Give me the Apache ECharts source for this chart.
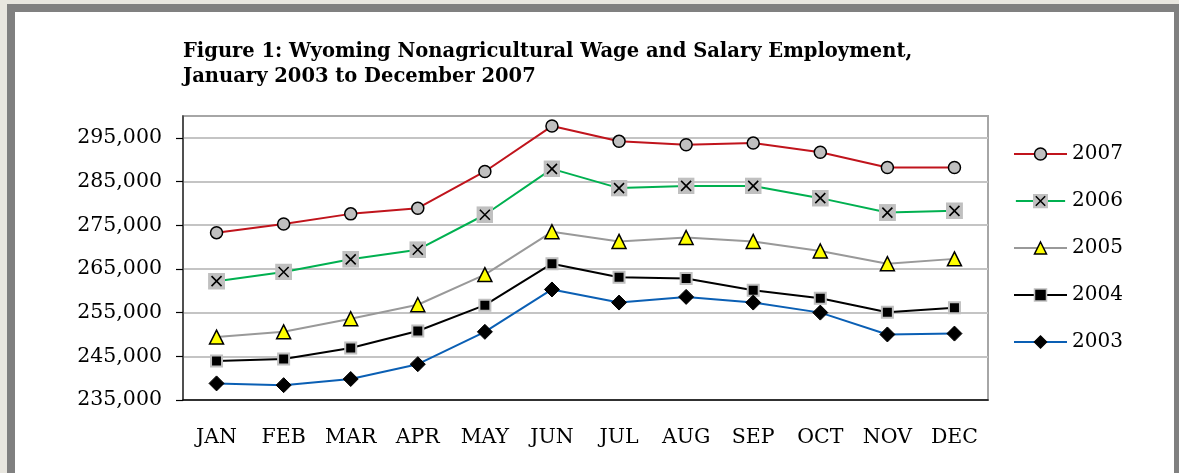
<!DOCTYPE html>
<html>
<head>
<meta charset="utf-8">
<script src="https://cdn.jsdelivr.net/npm/echarts@6/dist/echarts.min.js"></script>
<style>
  html, body { margin: 0; padding: 0; background: #e8e6df; }
  #frame {
    position: absolute; left: 7px; top: 4px; right: 0; bottom: 0;
    background: #fff;
    border-left: 8px solid #808080;
    border-top: 8px solid #808080;
    border-right: 5px solid #808080;
  }
  #main { position: absolute; left: 0; top: 0; width: 1179px; height: 473px; }
</style>
</head>
<body>
<div id="frame"></div>
<div id="main"></div>
<script>
// 月份
var months = ['JAN', 'FEB', 'MAR', 'APR', 'MAY', 'JUN', 'JUL', 'AUG', 'SEP', 'OCT', 'NOV', 'DEC']
var yTicks = [235000, 245000, 255000, 265000, 275000, 285000, 295000]

// 各年就业人数
var y2007 = [273300, 275300, 277600, 278900, 287300, 297700, 294200, 293400, 293800, 291700, 288200, 288200]
var y2006 = [262200, 264300, 267200, 269400, 277400, 287900, 283500, 284000, 284000, 281200, 277900, 278300]
var y2005 = [249400, 250600, 253600, 256800, 263700, 273500, 271300, 272200, 271300, 269100, 266200, 267300]
var y2004 = [243900, 244400, 246900, 250800, 256700, 266200, 263100, 262800, 260100, 258300, 255100, 256100]
var y2003 = [238800, 238400, 239800, 243200, 250600, 260300, 257300, 258600, 257300, 255000, 250000, 250200]

var serif = 'DejaVu Serif'

// 灰底方块 + 黑色叉
var xBox = 'image://data:image/svg+xml;utf8,' + encodeURIComponent(
  '<svg xmlns="http://www.w3.org/2000/svg" width="34" height="34" viewBox="0 0 34 34">' +
  '<rect width="34" height="34" fill="#c0c0c0"/>' +
  '<path d="M7 7 L27 27 M27 7 L7 27" stroke="#000" stroke-width="3.2"/></svg>')

// 图例里 2006 的图标（线 + 方块）
var xBoxLegend = 'image://data:image/svg+xml;utf8,' + encodeURIComponent(
  '<svg xmlns="http://www.w3.org/2000/svg" width="106" height="32" viewBox="0 0 106 32">' +
  '<path d="M0 16 H106" stroke="#00b050" stroke-width="4"/>' +
  '<rect x="37" y="0" width="32" height="32" fill="#c0c0c0"/>' +
  '<path d="M43 6 L63 26 M63 6 L43 26" stroke="#000" stroke-width="3.2"/></svg>')

function mkLine(name, data, color, symbol, size, itemStyle) {
  return {
    name: name,
    type: 'line',
    data: data,
    symbol: symbol,
    symbolSize: size,
    showAllSymbol: true,
    lineStyle: { color: color, width: 2 },
    itemStyle: itemStyle,
    emphasis: { disabled: true },
    z: 3
  }
}

var chart = echarts.init(document.getElementById('main'))
chart.setOption({
  animation: false,
  title: {
    text: 'Figure 1: Wyoming Nonagricultural Wage and Salary Employment,\nJanuary 2003 to December 2007',
    left: 178,
    top: 34,
    textStyle: { fontFamily: serif, fontWeight: 'bold', fontSize: 19.5, lineHeight: 25, color: '#000' }
  },
  legend: {
    orient: 'vertical',
    left: 1008,
    top: 139,
    itemWidth: 53,
    itemHeight: 15,
    itemGap: 27,
    itemStyle: { borderWidth: 1.5 },
    textStyle: { fontFamily: serif, fontSize: 20, color: '#000', padding: [0, 0, 0, 0] },
    data: ['2007', { name: '2006', icon: xBoxLegend }, '2005', '2004', '2003']
  },
  grid: {
    left: 183, right: 191, top: 116, bottom: 73,
    show: true, borderColor: '#a6a6a6', borderWidth: 2
  },
  xAxis: {
    type: 'category',
    data: months,
    boundaryGap: true,
    axisLine: { lineStyle: { color: '#000', width: 1.5 } },
    axisTick: { length: 7, lineStyle: { color: '#000', width: 1.2 } },
    axisLabel: { margin: 27, fontFamily: serif, fontSize: 20.5, color: '#000' }
  },
  yAxis: {
    type: 'value',
    min: 235000,
    max: 300000,
    interval: 10000,
    axisLine: { show: true, lineStyle: { color: '#333', width: 1.5 } },
    axisTick: { show: true, length: 7, lineStyle: { color: '#000', width: 1.2 }, customValues: yTicks },
    axisLabel: {
      margin: 21, fontFamily: serif, fontSize: 20.5, color: '#000',
      customValues: yTicks,
      formatter: function (v) { return v === 300000 ? '' : v.toLocaleString('en-US') }
    },
    splitLine: { lineStyle: { color: '#c4c4c4', width: 2 } }
  },
  series: [
    mkLine('2007', y2007, '#c0141c', 'circle', 12, { color: '#c0c0c0', borderColor: '#000', borderWidth: 1.5 }),
    mkLine('2006', y2006, '#00b050', xBox, 17, { color: '#c0c0c0' }),
    mkLine('2005', y2005, '#999999', 'triangle', 14, { color: '#ffff00', borderColor: '#000', borderWidth: 1.5 }),
    mkLine('2004', y2004, '#000000', 'rect', 11, { color: '#000', borderColor: '#c0c0c0', borderWidth: 2 }),
    mkLine('2003', y2003, '#0a5fb4', 'diamond', 15, { color: '#000', borderColor: '#000', borderWidth: 1 })
  ]
})
</script>
</body>
</html>
